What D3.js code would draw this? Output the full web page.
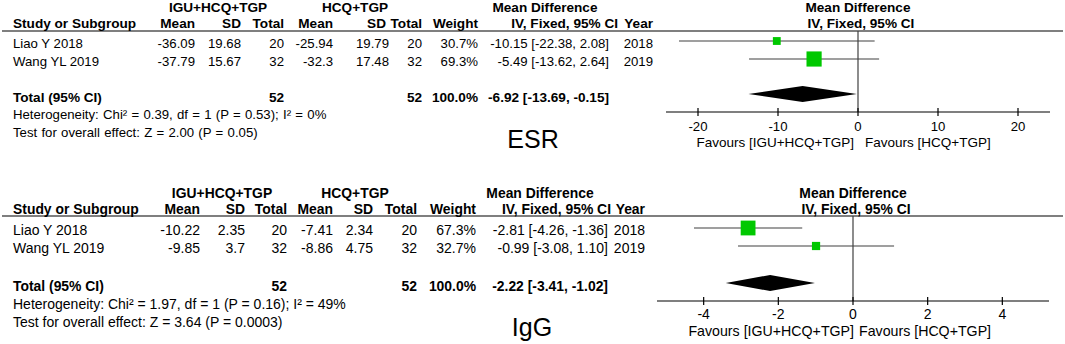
<!DOCTYPE html>
<html>
<head>
<meta charset="utf-8">
<script src="https://cdn.jsdelivr.net/npm/d3@7"></script>
<style>
  body { margin: 0; background: #fff; }
  svg { display: block; font-family: "Liberation Sans", Arial, sans-serif; }
</style>
</head>
<body>
<script>
const width = 1065;
const height = 344;

// Data
const studies = ["Liao Y 2018", "Wang YL 2019"];
const years = [2018, 2019];

// ESR
const esrMean1 = [-36.09, -37.79];
const esrSd1 = [19.68, 15.67];
const esrN1 = [20, 32];
const esrMean2 = [-25.94, -32.3];
const esrSd2 = [19.79, 17.48];
const esrN2 = [20, 32];
const esrWeight = [30.7, 69.3];
const esrMd = [-10.15, -5.49];
const esrLo = [-22.38, -13.62];
const esrHi = [2.08, 2.64];
const esrTotal = [-6.92, -13.69, -0.15];
const esrTicks = [-20, -10, 0, 10, 20];
const esrHet = "Heterogeneity: Chi² = 0.39, df = 1 (P = 0.53); I² = 0%";
const esrTest = "Test for overall effect: Z = 2.00 (P = 0.05)";

// IgG
const iggMean1 = [-10.22, -9.85];
const iggSd1 = [2.35, 3.7];
const iggN1 = [20, 32];
const iggMean2 = [-7.41, -8.86];
const iggSd2 = [2.34, 4.75];
const iggN2 = [20, 32];
const iggWeight = [67.3, 32.7];
const iggMd = [-2.81, -0.99];
const iggLo = [-4.26, -3.08];
const iggHi = [-1.36, 1.10];
const iggTotal = [-2.22, -3.41, -1.02];
const iggTicks = [-4, -2, 0, 2, 4];
const iggHet = "Heterogeneity: Chi² = 1.97, df = 1 (P = 0.16); I² = 49%";
const iggTest = "Test for overall effect: Z = 3.64 (P = 0.0003)";

const headers = ["Mean", "SD", "Total", "Mean", "SD", "Total", "Weight"];

const svg = d3.select("body").append("svg")
    .attr("width", width)
    .attr("height", height);

const green = "#00c800";
const lineCol = "#404040";

function panel(p) {
  const g = svg.append("g");
  const Y = p.y;
  const C = p.cols;

  function txt(x, y, s, anchor, bold, size) {
    return g.append("text")
      .attr("x", x).attr("y", y)
      .attr("text-anchor", anchor || "start")
      .attr("font-size", size || (bold ? p.fsb : p.fs))
      .attr("font-weight", bold ? "bold" : "normal")
      .attr("fill", "#000")
      .text(s);
  }

  // headers
  txt(p.grp1X, Y.h1, "IGU+HCQ+TGP", "middle", true);
  txt(p.grp2X, Y.h1, "HCQ+TGP", "middle", true);
  txt(p.mdX, Y.h1, "Mean Difference", "middle", true);
  txt(13, Y.h2, "Study or Subgroup", "start", true);
  headers.forEach((h, i) => txt(C[i] + (p.hdrShift[i] || 0), Y.h2, h, "end", true));
  txt(p.ciHdrX, Y.h2, "IV, Fixed, 95% CI", "end", true);
  txt(C[8], Y.h2, "Year", "end", true);

  const x = d3.scaleLinear().domain(p.domain).range(p.range);
  txt(x(0), Y.h1, "Mean Difference", "middle", true);
  txt(x(0) + 3, Y.h2, "IV, Fixed, 95% CI", "middle", true);

  g.append("line")
    .attr("x1", 2).attr("x2", 1063)
    .attr("y1", Y.line).attr("y2", Y.line)
    .attr("stroke", "#000").attr("stroke-width", 1.2);

  // study rows
  studies.forEach((s, i) => {
    const yb = Y.rows[i];
    txt(13, yb, s);
    txt(C[0], yb, String(p.mean1[i]), "end");
    txt(C[1], yb, String(p.sd1[i]), "end");
    txt(C[2], yb, String(p.n1[i]), "end");
    txt(C[3], yb, String(p.mean2[i]), "end");
    txt(C[4], yb, String(p.sd2[i]), "end");
    txt(C[5], yb, String(p.n2[i]), "end");
    txt(C[6], yb, p.weight[i].toFixed(1) + "%", "end");
    txt(C[7], yb, `${p.md[i].toFixed(2)} [${p.lo[i].toFixed(2)}, ${p.hi[i].toFixed(2)}]`, "end");
    txt(C[8], yb, String(years[i]), "end");
  });

  // total row
  txt(13, Y.total, "Total (95% CI)", "start", true);
  txt(C[2], Y.total, String(d3.sum(p.n1)), "end", true);
  txt(C[5], Y.total, String(d3.sum(p.n2)), "end", true);
  txt(C[6], Y.total, d3.sum(p.weight).toFixed(1) + "%", "end", true);
  txt(C[7], Y.total, `${p.total[0].toFixed(2)} [${p.total[1].toFixed(2)}, ${p.total[2].toFixed(2)}]`, "end", true);
  txt(13, Y.het, p.het).attr("word-spacing", p.ws);
  txt(13, Y.test, p.test).attr("word-spacing", p.ws);

  // forest plot
  const size = d3.scaleLinear().domain([0, 100]).range([2, 21]);

  g.append("line")
    .attr("x1", x(0)).attr("x2", x(0))
    .attr("y1", Y.line).attr("y2", Y.axis)
    .attr("stroke", lineCol).attr("stroke-width", 1.2);

  studies.forEach((s, i) => {
    const yc = Y.rows[i] - 7;
    g.append("line")
      .attr("x1", x(p.lo[i])).attr("x2", x(p.hi[i]))
      .attr("y1", yc).attr("y2", yc)
      .attr("stroke", lineCol).attr("stroke-width", 1.2);
    const sz = size(p.weight[i]);
    g.append("rect")
      .attr("x", x(p.md[i]) - sz / 2).attr("y", yc - sz / 2)
      .attr("width", sz).attr("height", sz)
      .attr("fill", green);
  });

  const yd = Y.total - 8;
  g.append("path")
    .attr("d", `M${x(p.total[1])},${yd} L${x(p.total[0])},${yd - 8} L${x(p.total[2])},${yd} L${x(p.total[0])},${yd + 8} Z`)
    .attr("fill", "#000");

  // axis
  g.append("line")
    .attr("x1", p.range[0]).attr("x2", p.range[1])
    .attr("y1", Y.axis).attr("y2", Y.axis)
    .attr("stroke", "#000").attr("stroke-width", 1.2);
  p.ticks.forEach(t => {
    g.append("line")
      .attr("x1", x(t)).attr("x2", x(t))
      .attr("y1", Y.axis - 4).attr("y2", Y.axis + 4)
      .attr("stroke", "#000").attr("stroke-width", 1.2);
    txt(x(t), Y.tick, String(t), "middle");
  });
  txt(x(0) + p.favL, Y.fav, "Favours [IGU+HCQ+TGP]", "end", false, p.fsf);
  txt(x(0) + p.favR, Y.fav, "Favours [HCQ+TGP]", "start", false, p.fsf);

  txt(p.labelX, Y.label, p.label, "middle", false, 25);
}

panel({
  label: "ESR",
  labelX: 533,
  fs: 13.2, fsb: 13.6, fsf: 13.5, ws: 0.6,
  y: { h1: 12, h2: 28, line: 31, rows: [48, 66], total: 102, het: 119, test: 137, axis: 112, tick: 131, fav: 147, label: 148 },
  cols: [195, 241, 284, 333, 389, 422, 478, 609, 653],
  hdrShift: [0, 0, 0, 0, -3, 0, 0],
  grp1X: 218, grp2X: 355, mdX: 545, ciHdrX: 618,
  domain: [-24, 24], range: [666, 1050],
  favL: -4, favR: 7,
  mean1: esrMean1, sd1: esrSd1, n1: esrN1, mean2: esrMean2, sd2: esrSd2, n2: esrN2,
  weight: esrWeight, md: esrMd, lo: esrLo, hi: esrHi, total: esrTotal,
  ticks: esrTicks, het: esrHet, test: esrTest
});

panel({
  label: "IgG",
  labelX: 532,
  fs: 14, fsb: 13.9, fsf: 14.2, ws: 0,
  y: { h1: 198, h2: 214, line: 216, rows: [235, 253], total: 291, het: 309, test: 327, axis: 301, tick: 319, fav: 336, label: 336 },
  cols: [200, 245, 287, 333, 373, 417, 476, 608, 645],
  hdrShift: [0, 0, 0, 0, 0, 0, 0],
  grp1X: 222, grp2X: 355, mdX: 540, ciHdrX: 611,
  domain: [-5.25, 5.25], range: [657, 1049],
  favL: 1, favR: 6,
  mean1: iggMean1, sd1: iggSd1, n1: iggN1, mean2: iggMean2, sd2: iggSd2, n2: iggN2,
  weight: iggWeight, md: iggMd, lo: iggLo, hi: iggHi, total: iggTotal,
  ticks: iggTicks, het: iggHet, test: iggTest
});
</script>
</body>
</html>
